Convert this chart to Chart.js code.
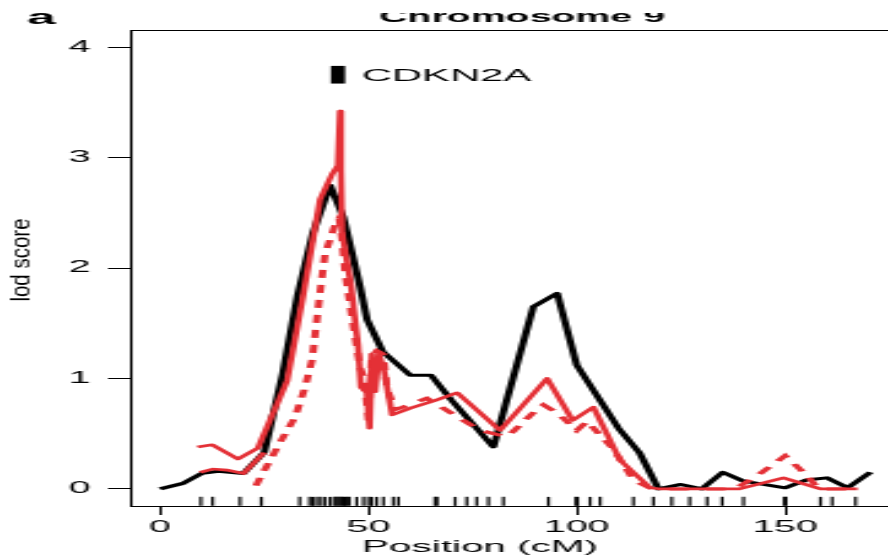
<!DOCTYPE html>
<html><head><meta charset="utf-8">
<script src="https://cdn.jsdelivr.net/npm/chart.js@4.4.1/dist/chart.umd.min.js"></script>
<style>
html,body{margin:0;padding:0;background:#fff;overflow:hidden;width:888px;height:560px;}
#wrap{position:absolute;left:0;top:0;width:362px;height:560px;transform:scaleX(2.45304);transform-origin:0 0;}
canvas{display:block;}
</style></head><body>
<div id="wrap"><canvas id="c" width="362" height="560"></canvas></div>
<script>
// ---------- data ----------
const panelLabel = 'a';
const titleText = 'Chromosome 9';
const xTitle = 'Position (cM)';
const yTitle = 'lod score';
const geneName = 'CDKN2A';

const xTicks = [0, 50, 100, 150];
const yTicks = [0, 1, 2, 3, 4];

const blackPos = [0, 5.5, 10, 14, 20, 25, 29.5, 33, 36.7, 40.8, 44, 48, 49.7, 53.5, 60, 65, 70, 80, 89.6, 95.3, 100, 110, 115, 119.6, 125, 130, 135, 140, 150, 155, 160, 165, 170.5];
const blackLod = [0, 0.05, 0.14, 0.16, 0.14, 0.33, 1.05, 1.75, 2.32, 2.75, 2.46, 1.83, 1.53, 1.24, 1.03, 1.03, 0.8, 0.38, 1.65, 1.77, 1.12, 0.55, 0.33, 0, 0.04, 0, 0.15, 0.07, 0.01, 0.08, 0.1, 0.01, 0.15];

const redAPos = [9, 12.5, 18.7, 23.5, 30.5, 34.3, 38.4, 41.3, 42.7, 43.2, 43.4, 43.7, 45.8, 47.5, 48.2, 49.6, 50.3, 50.8, 51.6, 52.5, 53.6, 55.7, 60, 66, 71.3, 81.6, 92.9, 99, 104, 110.4, 117.6, 120, 139, 149.6, 158.5, 167.4];
const redALod = [0.38, 0.4, 0.27, 0.37, 0.98, 1.74, 2.62, 2.85, 2.93, 3.42, 2.9, 2.32, 1.85, 1.3, 0.92, 0.87, 0.55, 1.22, 0.88, 1.22, 1.1, 0.67, 0.73, 0.8, 0.87, 0.53, 1.0, 0.62, 0.74, 0.26, 0.01, 0, 0, 0.1, 0, 0];

const redBPos = [9.6, 12.7, 16, 20, 25];
const redBLod = [0.15, 0.18, 0.17, 0.14, 0.33];

const redDashPos = [23, 28.8, 32.4, 34.8, 36.5, 38.3, 39.6, 42, 43, 43.7, 44.4, 46.5, 48, 49, 50, 50.8, 52, 53.5, 54.5, 56.5, 58.3, 64, 73.7, 76.8, 83.3, 89.6, 92, 95.3, 100, 102.5, 108.8, 113.6, 118, 138, 143.3, 150, 155.3, 158, 165];
const redDashLod = [0.03, 0.42, 0.65, 0.92, 1.17, 1.75, 2.13, 2.39, 2.45, 2.25, 1.96, 1.45, 1.1, 1.0, 0.62, 1.2, 1.25, 1.22, 0.9, 0.72, 0.74, 0.82, 0.6, 0.53, 0.47, 0.69, 0.76, 0.69, 0.53, 0.61, 0.36, 0.08, 0, 0, 0.12, 0.3, 0.12, 0, 0];

const markerPos = 42.7;
const markerLod = [3.67, 3.83];

const rugPos = [9.8, 12.6, 19.2, 24.3, 33.5, 35.9, 36.7, 37.6, 38.6, 39.6, 40.8, 41.8, 42.3, 42.8, 43.3, 43.8, 44.3, 44.8, 45.4, 47.2, 48.8, 50, 50.8, 52, 53.6, 56, 57.2, 66, 66.5, 70.8, 73.6, 76, 78.8, 82.4, 93.2, 99.8, 100.2, 103.2, 105.6, 113.6, 118.4, 122.8, 127.1, 131.3, 134.9, 140, 149.8, 150.2, 158.5, 161.3, 166.9];
const rugLevel = -0.113;

// ---------- helpers ----------
const toXY = (xs, ys) => xs.map((x, i) => ({x: x, y: ys[i]}));
const S = 888 / 362;
const FONT = '"Liberation Sans", Arial, Helvetica, sans-serif';
const RED = 'rgb(228,48,54)';

const textPlugin = {
  id: 'texts',
  afterDraw(chart) {
    const {ctx, chartArea: a, scales: {x, y}} = chart;
    ctx.save();
    ctx.strokeStyle = '#000'; ctx.lineWidth = 1;
    ctx.beginPath();
    ctx.moveTo(a.left, Math.round(a.top) + 0.5);
    ctx.lineTo(a.right, Math.round(a.top) + 0.5);
    ctx.stroke();

    ctx.fillStyle = '#000';
    ctx.textAlign = 'left'; ctx.textBaseline = 'alphabetic';
    ctx.font = 'bold 21px ' + FONT;
    ctx.fillText(panelLabel, 27 / S, 24);

    ctx.save();
    ctx.beginPath(); ctx.rect(0, 13, chart.width, 17); ctx.clip();
    ctx.font = 'bold 16px ' + FONT;
    ctx.textAlign = 'center';
    ctx.fillText(titleText, 522 / S, 22);
    ctx.restore();

    ctx.font = '17px ' + FONT;
    ctx.textAlign = 'left';
    ctx.fillText(geneName, x.getPixelForValue(markerPos) + 24 / S, 81);

    ctx.font = '16.5px ' + FONT;
    ctx.textAlign = 'center';
    ctx.fillText(xTitle, 480 / S, 552);

    ctx.save();
    ctx.translate(23.5 / S, 260);
    ctx.rotate(-Math.PI / 2);
    ctx.scale(1, 0.5);
    ctx.font = '20.5px ' + FONT;
    ctx.textAlign = 'center'; ctx.textBaseline = 'middle';
    ctx.fillText(yTitle, 0, 0);
    ctx.restore();
    ctx.restore();
  }
};

new Chart(document.getElementById('c'), {
  type: 'line',
  data: {
    datasets: [
      {data: rugPos.map(p => ({x: p, y: rugLevel})), showLine: false, pointStyle: 'line', rotation: 90,
       pointRadius: 4.5, pointBorderWidth: 1.2, borderColor: '#000', pointBorderColor: '#000', order: 0},
      {data: markerLod.map(v => ({x: markerPos, y: v})), borderColor: '#000', borderWidth: 5.8,
       borderCapStyle: 'butt', pointRadius: 0, order: 0},
      {data: toXY(redAPos, redALod), borderColor: RED, borderWidth: 2.6, pointRadius: 0, order: 1,
       borderJoinStyle: 'round'},
      {data: toXY(redBPos, redBLod), borderColor: RED, borderWidth: 2.6, pointRadius: 0, order: 2},
      {data: toXY(redDashPos, redDashLod), borderColor: RED, borderWidth: 3, borderDash: [8, 7],
       pointRadius: 0, order: 2},
      {data: toXY(blackPos, blackLod), borderColor: '#000', borderWidth: 3, pointRadius: 0, order: 3,
       borderJoinStyle: 'round'}
    ]
  },
  options: {
    responsive: false,
    animation: false,
    devicePixelRatio: 1,
    layout: {autoPadding: false, padding: {top: 30, left: 0, right: 0, bottom: 0}},
    plugins: {legend: {display: false}, tooltip: {enabled: false}, title: {display: false}},
    elements: {line: {tension: 0}},
    scales: {
      x: {
        type: 'linear', min: -7.2, max: 174.7,
        afterBuildTicks: s => { s.ticks = xTicks.map(v => ({value: v})); },
        afterFit: s => { s.height = 54; },
        grid: {drawOnChartArea: false, drawTicks: true, tickLength: 9, color: '#000', tickColor: '#000', lineWidth: 1},
        border: {display: true, color: '#000', width: 1},
        ticks: {color: '#000', font: {family: FONT, size: 16}, padding: 3, maxRotation: 0, autoSkip: false}
      },
      y: {
        type: 'linear', min: -0.155, max: 4.155,
        afterBuildTicks: s => { s.ticks = yTicks.map(v => ({value: v})); },
        afterFit: s => { s.width = 53; },
        grid: {drawOnChartArea: false, drawTicks: true, tickLength: 9, color: '#000', tickColor: '#000', lineWidth: 1},
        border: {display: true, color: '#000', width: 1},
        ticks: {color: '#000', font: {family: FONT, size: 16}, padding: 7}
      }
    }
  },
  plugins: [textPlugin]
});
</script>
</body></html>
